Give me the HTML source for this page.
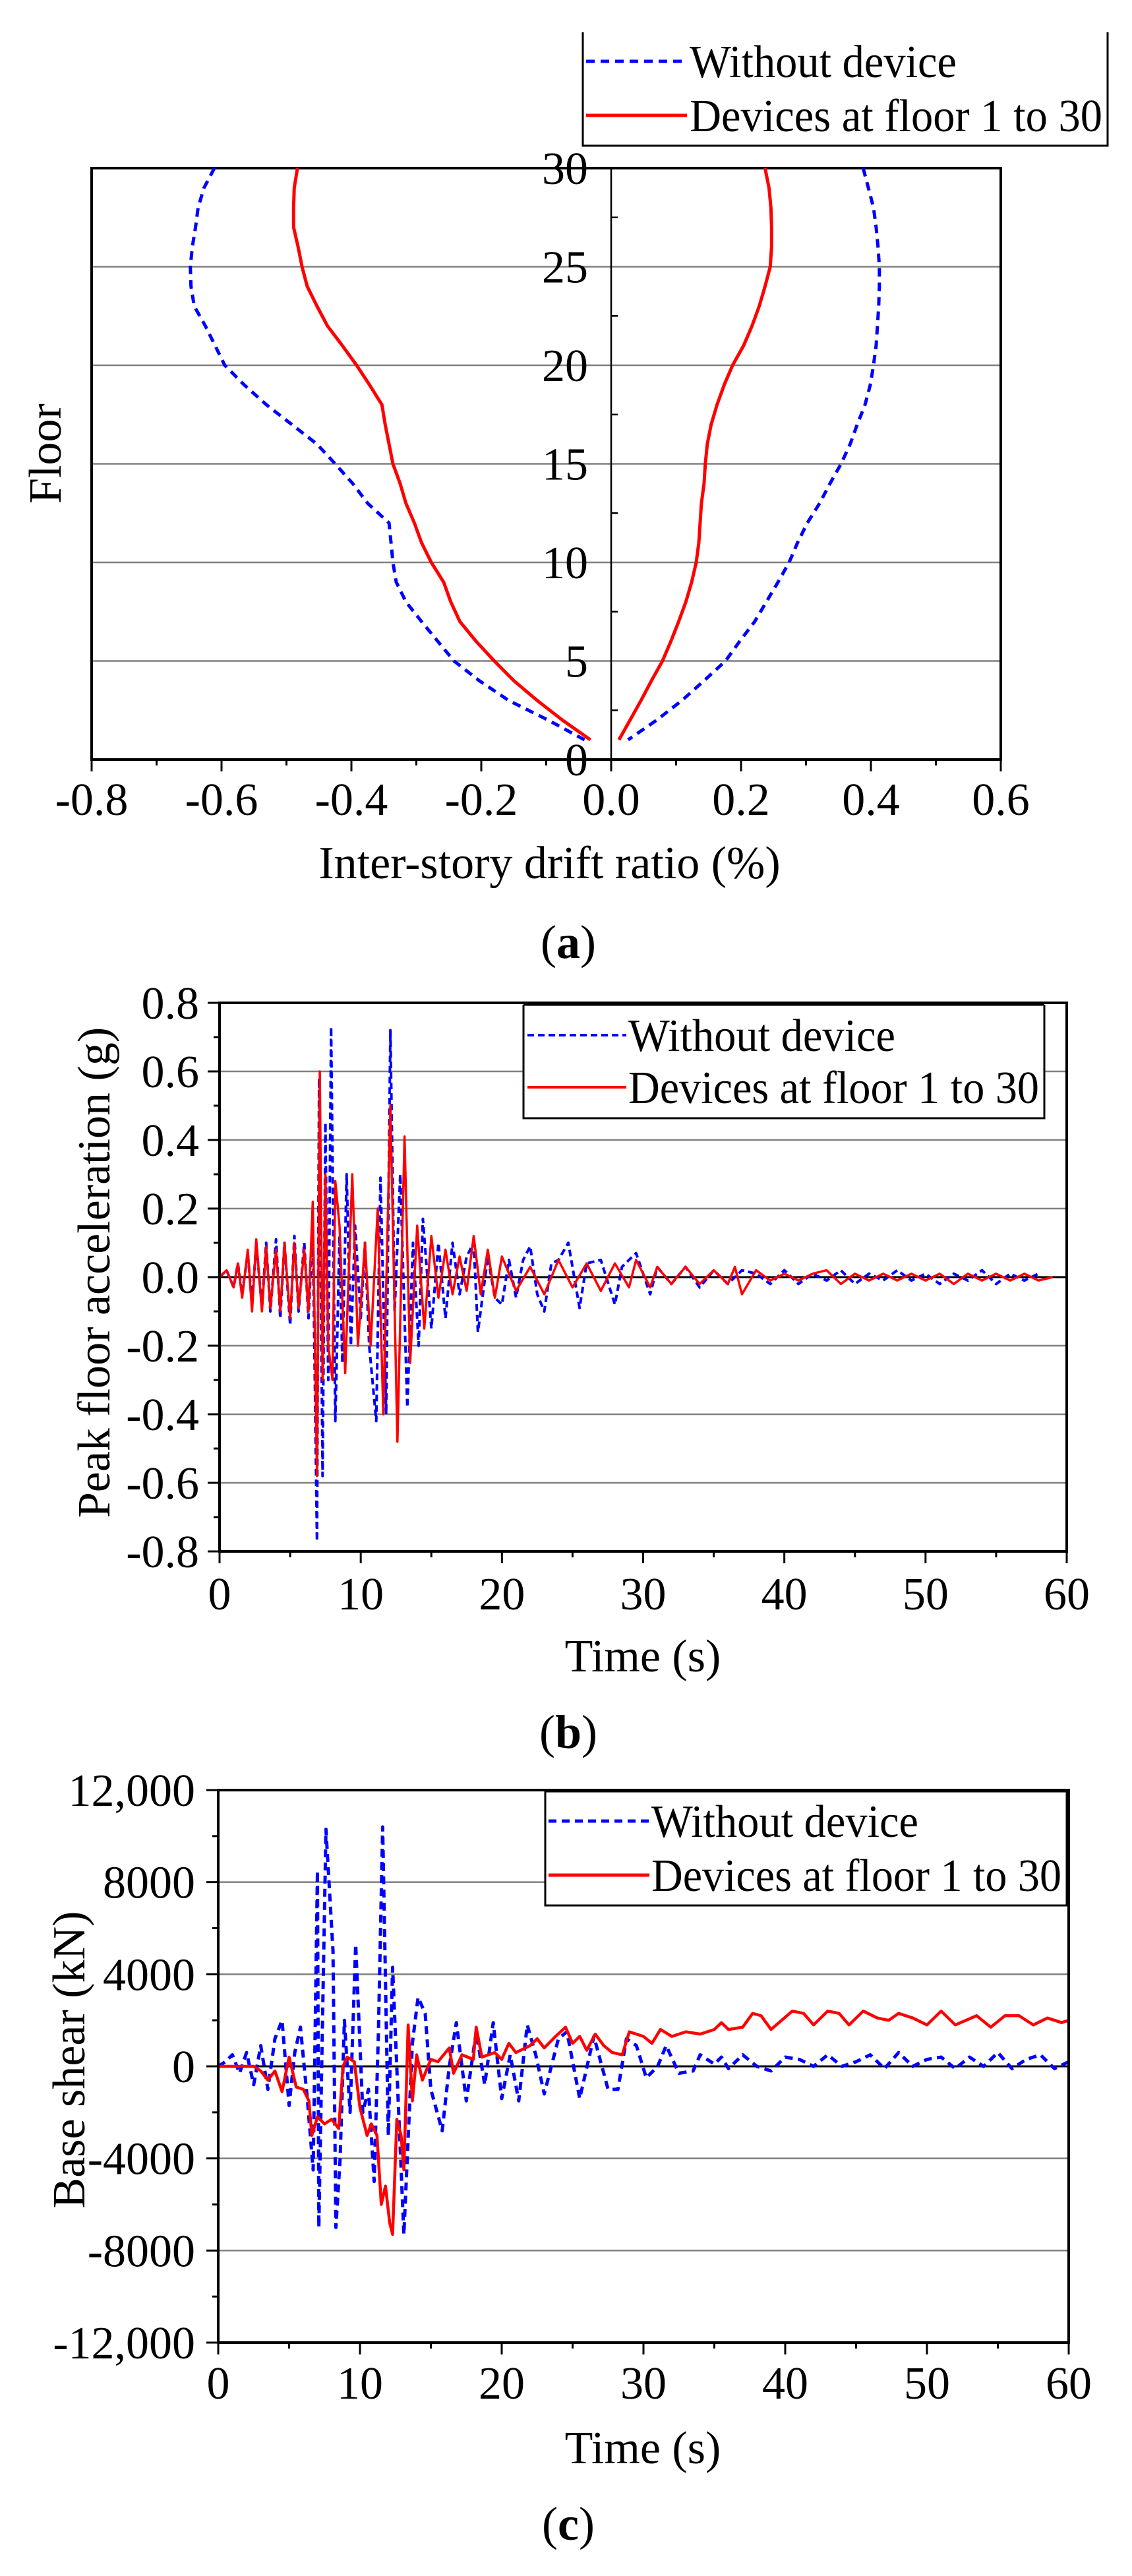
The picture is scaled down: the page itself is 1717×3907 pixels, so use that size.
<!DOCTYPE html>
<html><head><meta charset="utf-8"><style>
html,body{margin:0;padding:0;background:#fff;}
svg{display:block;font-family:"Liberation Serif",serif;}
</style></head><body>
<svg id="fig" width="1717" height="3907" viewBox="0 0 1717 3907" xmlns="http://www.w3.org/2000/svg"></svg>
<script>
// ---------- Panel (a) data ----------
const floorsA = [30,29,28,27,26,25,24,23,22,21,20,19,18,17,16,15,14,13,12,11,10,9,8,7,6,5,4,3,2,1];
const blueNegA = [-0.611,-0.627,-0.636,-0.640,-0.645,-0.648,-0.647,-0.642,-0.625,-0.610,-0.595,-0.565,-0.531,-0.492,-0.453,-0.425,-0.398,-0.375,-0.342,-0.339,-0.336,-0.331,-0.316,-0.292,-0.267,-0.242,-0.203,-0.158,-0.097,-0.041];
const redNegA = [-0.483,-0.488,-0.489,-0.489,-0.482,-0.476,-0.468,-0.453,-0.437,-0.414,-0.392,-0.372,-0.353,-0.348,-0.342,-0.336,-0.325,-0.316,-0.303,-0.292,-0.277,-0.258,-0.247,-0.233,-0.208,-0.180,-0.150,-0.114,-0.075,-0.032];
const redPosA = [0.237,0.243,0.246,0.247,0.247,0.245,0.237,0.228,0.217,0.204,0.187,0.174,0.163,0.154,0.148,0.145,0.143,0.139,0.137,0.135,0.131,0.124,0.115,0.104,0.092,0.079,0.062,0.046,0.029,0.012];
const bluePosA = [0.388,0.396,0.404,0.408,0.411,0.413,0.413,0.412,0.410,0.408,0.404,0.399,0.391,0.379,0.368,0.354,0.337,0.321,0.302,0.287,0.274,0.257,0.239,0.221,0.198,0.176,0.143,0.109,0.070,0.026];
const xTicksA = [-0.8,-0.6,-0.4,-0.2,0.0,0.2,0.4,0.6];
const xTickLabelsA = ["-0.8","-0.6","-0.4","-0.2","0.0","0.2","0.4","0.6"];
const yTicksA = [0,5,10,15,20,25,30];

// ---------- Panel (b) data ----------
const tB_blue = [0,0.5,1,1.3,1.6,2,2.3,2.6,3,3.3,3.6,4,4.3,4.6,5,5.3,5.6,6,6.3,6.6,6.9,7.05,7.3,7.5,7.7,7.9,8.2,8.5,8.7,9,9.3,9.6,10,10.3,10.6,11.1,11.4,11.8,12.1,12.4,12.8,13.3,13.7,14.1,14.4,15,15.5,16,16.5,17,17.5,18,18.3,19,19.5,20,20.5,21,21.5,22,22.5,23,23.5,24,24.7,25.5,26,27,28,28.5,29.5,30.5,31,32,33,34,35,36,37,38,39,40,41,42,43,44,45,46,47,48,49,50,51,52,53,54,55,56,57,58,59,60];
const accB_blue = [0,0.02,-0.03,0.04,-0.05,0.07,-0.08,0.1,-0.09,0.1,-0.1,0.11,-0.12,0.1,-0.14,0.12,-0.1,0.1,-0.12,0.15,-0.77,0.58,-0.58,0.45,-0.3,0.73,-0.42,0.12,-0.25,0.3,-0.2,0.15,-0.12,0.1,-0.2,-0.42,0.29,-0.4,0.72,-0.1,0.3,-0.38,0.1,-0.2,0.17,-0.15,0.1,-0.12,0.1,-0.05,0.06,0.1,-0.16,0.06,-0.06,-0.08,0.05,-0.06,0.05,0.09,-0.05,-0.1,0.04,0.05,0.1,-0.09,0.04,0.05,-0.08,0.03,0.07,-0.05,0.03,-0.02,0.03,-0.03,0.02,-0.02,0.02,0.01,-0.02,0.02,-0.02,0.01,-0.01,0.02,-0.02,0.01,-0.01,0.02,-0.01,0.01,-0.02,0.01,-0.01,0.02,-0.02,0.01,-0.01,0.01];
const tB_red = [0,0.5,1,1.3,1.6,2,2.3,2.6,3,3.3,3.6,4,4.3,4.6,5,5.3,5.6,6,6.3,6.6,6.9,7.1,7.3,7.5,7.7,8,8.2,8.5,8.9,9.4,9.8,10.3,10.7,11.2,11.6,12.1,12.6,13.1,13.5,14,14.5,15,15.5,16,16.5,17,17.5,18,18.5,19,19.5,20,21,22,23,24,25,26,27,28,29,29.5,30.5,31,32,33,34,35,36,36.5,37,38,39,40,41,42,43,44,45,46,47,48,49,50,51,52,53,54,55,56,57,58,59,60];
const accB_red = [0,0.02,-0.03,0.04,-0.06,0.08,-0.1,0.11,-0.1,0.09,-0.09,0.08,-0.1,0.1,-0.12,0.1,-0.09,0.08,-0.1,0.22,-0.58,0.6,-0.3,0.3,-0.2,-0.3,0.28,0.15,-0.28,0.3,-0.2,0.1,-0.2,0.2,-0.4,0.5,-0.48,0.41,-0.25,0.15,-0.15,0.12,-0.06,0.08,-0.05,0.06,-0.04,0.12,-0.05,0.08,-0.06,0.06,-0.04,0.03,-0.05,0.05,-0.03,0.04,-0.04,0.04,-0.03,0.05,-0.03,0.03,-0.02,0.03,-0.02,0.02,-0.02,0.03,-0.05,0.02,-0.01,0.01,-0.01,0.01,0.02,-0.02,0.01,-0.01,0.01,-0.01,0.01,-0.01,0.01,-0.02,0.01,-0.01,0.01,-0.01,0.01,-0.01,0];
const xTicksB = [0,10,20,30,40,50,60];
const yTicksB = [-0.8,-0.6,-0.4,-0.2,0.0,0.2,0.4,0.6,0.8];
const yTickLabelsB = ["-0.8","-0.6","-0.4","-0.2","0.0","0.2","0.4","0.6","0.8"];

// ---------- Panel (c) data ----------
const tC_blue = [0,0.5,1,1.5,2,2.5,3,3.5,4,4.5,5,5.4,5.8,6.3,6.7,7,7.1,7.6,8.1,8.3,8.6,8.9,9.3,9.7,10.2,10.6,11,11.3,11.6,12,12.3,12.8,13.1,13.7,14.1,14.6,15,15.8,16.3,16.8,17.5,18.2,18.8,19.4,20,20.6,21.2,21.8,22.4,23,24,24.6,25.5,26.5,27.5,28.2,28.8,29.5,30.2,31,31.6,32.5,33.5,34,35,35.5,36,37,38,39,40,41,42,43,44,45,46,47,48,49,50,51,52,53,54,55,56,57,58,59,60];
const shearC_blue = [0,200,500,-300,600,-800,900,-1000,1200,2000,-1700,600,1700,-1500,-4500,8500,-7000,10300,5000,-7000,-4000,2000,-2000,5300,-2000,-1000,-5000,1500,10400,-3000,4300,-3000,-7300,1000,3000,2300,-1000,-2800,0,1900,-1500,1500,-800,1900,-1400,500,-1500,1800,500,-1200,1200,1500,-1400,1300,-1000,-1000,1200,900,-500,0,900,-300,-200,500,100,400,-100,500,0,-200,400,300,0,500,0,200,500,-100,600,0,300,400,-100,400,0,600,-100,300,500,-100,200];
const tC_red = [0,2.5,3,3.5,4,4.5,5,5.5,6,6.4,6.6,7,7.5,8,8.5,8.8,9.1,9.6,10,10.5,10.8,11.2,11.5,11.8,12.1,12.3,12.6,12.9,13.1,13.4,13.7,14,14.4,15,15.5,16.3,16.6,17.2,18,18.2,18.6,19.5,20,20.5,21,22,22.5,23,23.8,24.5,25,25.5,26,26.6,27.2,27.8,28.5,29,30,30.6,31.2,32,33,34,35,35.5,36,37,37.7,38.3,39,40.5,41.3,42,43,43.8,44.5,45.5,46.5,47.3,48,49,50,51,52,53.5,54.5,55.5,56.5,57.5,58.5,59.5,60];
const shearC_red = [0,0,-200,-600,-200,-1100,400,-900,-1000,-1500,-3000,-2200,-2500,-2300,-2700,0,400,200,-1800,-3000,-2500,-3000,-6000,-5200,-6800,-7300,-2300,-3000,-4500,1800,-1500,500,-600,300,200,800,-300,500,300,1700,400,600,300,1000,600,900,1200,800,1300,1700,1000,1300,700,1400,900,600,500,1500,1300,1000,1600,1300,1500,1400,1600,1900,1600,1700,2300,2200,1600,2400,2300,1800,2400,2300,1800,2400,2100,2000,2300,2100,1800,2400,1800,2200,1700,2200,2200,1800,2100,1900,2000];
const xTicksC = [0,10,20,30,40,50,60];
const yTicksC = [-12000,-8000,-4000,0,4000,8000,12000];
const yTickLabelsC = ["-12,000","-8000","-4000","0","4000","8000","12,000"];

const NS = "http://www.w3.org/2000/svg";
const svg = document.getElementById('fig');
function mk(tag, attrs, parent) {
  const e = document.createElementNS(NS, tag);
  for (const k in attrs) e.setAttribute(k, attrs[k]);
  (parent || svg).appendChild(e);
  return e;
}
function txt(s, x, y, size, anchor, parent, weight) {
  const t = mk('text', {x: x, y: y, 'font-size': size, 'text-anchor': anchor || 'middle', fill: '#000'}, parent);
  if (weight) t.setAttribute('font-weight', weight);
  t.textContent = s;
  return t;
}
function panelLabel(letter, cx, y) {
  const t = mk('text', {x: cx, y: y, 'font-size': 72, 'text-anchor': 'middle', fill: '#000'});
  
  
  const a = document.createElementNS(NS, 'tspan'); a.textContent = '('; t.appendChild(a);
  const b = document.createElementNS(NS, 'tspan'); b.setAttribute('font-weight', 'bold'); b.textContent = letter; t.appendChild(b);
  const c = document.createElementNS(NS, 'tspan'); c.textContent = ')'; t.appendChild(c);
}
function legend(g, x0, y0, x1, y1, l1y, l2y, sx0, sx1, tx, lw, dash, topLine) {
  const lg = mk('g', {}, g);
  
  
  mk('rect', {x: x0, y: y0, width: x1 - x0, height: y1 - y0, fill: '#fff', stroke: 'none'}, lg);
  mk('path', {d: (topLine ? `M${x0},${y0}H${x1}` : '') + `M${x0},${y0}V${y1}H${x1}V${y0}`, fill: 'none', stroke: '#000', 'stroke-width': 3}, lg);
  const s1 = mk('line', {x1: sx0, y1: l1y, x2: sx1, y2: l1y, stroke: '#0000ff', 'stroke-width': lw, 'stroke-dasharray': dash}, lg);
  
  
  const t1 = txt('Without device', tx, l1y + 24, 70, 'start', lg);
  t1.setAttribute('textLength', 405);
  t1.setAttribute('lengthAdjust', 'spacingAndGlyphs');
  
  
  const s2 = mk('line', {x1: sx0, y1: l2y, x2: sx1, y2: l2y, stroke: '#ff0000', 'stroke-width': lw}, lg);
  
  
  const t2 = txt('Devices at floor 1 to 30', tx, l2y + 24, 70, 'start', lg);
  t2.setAttribute('textLength', x1 - tx - 8);
  t2.setAttribute('lengthAdjust', 'spacingAndGlyphs');
  
  
}
function pathFrom(xs, ys, fx, fy) {
  return xs.map((v, i) => (i ? 'L' : 'M') + fx(v).toFixed(1) + ',' + fy(ys[i]).toFixed(1)).join('');
}

// ================= Panel (a) =================
(function () {
  const L = 139, R = 1518, T = 255, B = 1152;
  const xmin = -0.8, xmax = 0.6, ymin = 0, ymax = 30;
  const fx = v => L + (v - xmin) / (xmax - xmin) * (R - L);
  const fy = v => B - (v - ymin) / (ymax - ymin) * (B - T);
  const g = mk('g', {});
  
  
  yTicksA.forEach(v => {
    if (v === 0 || v === 30) return;
    const gl = mk('line', {x1: L, x2: R, y1: fy(v), y2: fy(v), stroke: '#808080', 'stroke-width': 2.5}, g);
    
    
  });
  const zx = fx(0);
  const ax = mk('line', {x1: zx, x2: zx, y1: T, y2: B, stroke: '#000', 'stroke-width': 2.5}, g);
  
  
  for (let v = 0; v <= 30; v += 2.5) {
    const len = (v % 5 === 0) ? 0 : 10;
    if (len) mk('line', {x1: zx, x2: zx + len, y1: fy(v), y2: fy(v), stroke: '#000', 'stroke-width': 2.5}, g);
  }
  yTicksA.forEach(v => {
    const t = txt(String(v), zx - 35, fy(v) + 24, 70, 'end', g);
    
    
  });
  const frame = mk('rect', {x: L, y: T, width: R - L, height: B - T, fill: 'none', stroke: '#000', 'stroke-width': 4}, g);
  
  
  for (let v = -0.8; v <= 0.6001; v += 0.1) {
    const major = Math.abs(Math.round(v * 10)) % 2 === 0;
    mk('line', {x1: fx(v), x2: fx(v), y1: B, y2: B + (major ? 18 : 9), stroke: '#000', 'stroke-width': 3}, g);
  }
  xTicksA.forEach((v, i) => {
    const t = txt(xTickLabelsA[i], fx(v), 1236, 70, 'middle', g);
    
    
  });
  const xt = txt('Inter-story drift ratio (%)', (L + R) / 2 + 5, 1332, 70, 'middle', g);
  
  
  const yt = txt('Floor', 0, 0, 70, 'middle', g);
  yt.setAttribute('transform', 'translate(92,688) rotate(-90)');
  
  
  const series = [
    [blueNegA, '#0000ff', true, 'line-without-device-negative'],
    [bluePosA, '#0000ff', true, 'line-without-device-positive'],
    [redNegA, '#ff0000', false, 'line-devices-negative'],
    [redPosA, '#ff0000', false, 'line-devices-positive']
  ];
  series.forEach(s => {
    const p = mk('path', {d: pathFrom(s[0], floorsA, fx, fy), fill: 'none', stroke: s[1], 'stroke-width': 5, 'stroke-linejoin': 'round'}, g);
    if (s[2]) p.setAttribute('stroke-dasharray', '13 9');
    
    
  });
  legend(g, 884, 49, 1680, 221, 93, 175, 889, 1042, 1046, 5, '13 9', false);
})();
panelLabel('a', 862, 1453);

// ================= Panel (b) =================
(function () {
  const L = 333, R = 1618, T = 1521, B = 2353;
  const xmin = 0, xmax = 60, ymin = -0.8, ymax = 0.8;
  const fx = v => L + (v - xmin) / (xmax - xmin) * (R - L);
  const fy = v => B - (v - ymin) / (ymax - ymin) * (B - T);
  const g = mk('g', {});
  
  
  yTicksB.forEach(v => {
    if (Math.abs(v) > 0.79) return;
    const gl = mk('line', {x1: L, x2: R, y1: fy(v), y2: fy(v), stroke: v === 0 ? '#000' : '#808080', 'stroke-width': v === 0 ? 3 : 2.5}, g);
    
    
  });
  const pb = mk('path', {d: pathFrom(tB_blue, accB_blue, fx, fy), fill: 'none', stroke: '#0000ff', 'stroke-width': 4, 'stroke-dasharray': '10 6', 'stroke-linejoin': 'round'}, g);
  
  
  const pr = mk('path', {d: pathFrom(tB_red, accB_red, fx, fy), fill: 'none', stroke: '#ff0000', 'stroke-width': 3.5, 'stroke-linejoin': 'round'}, g);
  
  
  const frame = mk('rect', {x: L, y: T, width: R - L, height: B - T, fill: 'none', stroke: '#000', 'stroke-width': 4}, g);
  
  
  for (let i = 0; i <= 16; i++) {
    const v = -0.8 + i * 0.1;
    mk('line', {x1: L - (i % 2 === 0 ? 18 : 9), x2: L, y1: fy(v), y2: fy(v), stroke: '#000', 'stroke-width': 3}, g);
  }
  for (let v = 0; v <= 60; v += 5) {
    mk('line', {x1: fx(v), x2: fx(v), y1: B, y2: B + (v % 10 === 0 ? 18 : 9), stroke: '#000', 'stroke-width': 3}, g);
  }
  yTicksB.forEach((v, i) => {
    const t = txt(yTickLabelsB[i], L - 31, fy(v) + 24, 70, 'end', g);
    
    
  });
  xTicksB.forEach(v => {
    const t = txt(String(v), fx(v), 2441, 70, 'middle', g);
    
    
  });
  const xt = txt('Time (s)', 975, 2535, 70, 'middle', g);
  
  
  const yt = txt('Peak floor acceleration (g)', 0, 0, 70, 'middle', g);
  yt.setAttribute('transform', 'translate(166,1930) rotate(-90)');
  
  
  legend(g, 794, 1524, 1584, 1696, 1570, 1649, 800, 950, 953, 4, '10 6', true);
})();
panelLabel('b', 862, 2651);

// ================= Panel (c) =================
(function () {
  const L = 331, R = 1621, T = 2715, B = 3553;
  const xmin = 0, xmax = 60, ymin = -12000, ymax = 12000;
  const fx = v => L + (v - xmin) / (xmax - xmin) * (R - L);
  const fy = v => B - (v - ymin) / (ymax - ymin) * (B - T);
  const g = mk('g', {});
  
  
  yTicksC.forEach(v => {
    if (Math.abs(v) > 11999) return;
    const gl = mk('line', {x1: L, x2: R, y1: fy(v), y2: fy(v), stroke: v === 0 ? '#000' : '#808080', 'stroke-width': v === 0 ? 3 : 2.5}, g);
    
    
  });
  const pb = mk('path', {d: pathFrom(tC_blue, shearC_blue, fx, fy), fill: 'none', stroke: '#0000ff', 'stroke-width': 5, 'stroke-dasharray': '12 8', 'stroke-linejoin': 'round'}, g);
  
  
  const pr = mk('path', {d: pathFrom(tC_red, shearC_red, fx, fy), fill: 'none', stroke: '#ff0000', 'stroke-width': 4.5, 'stroke-linejoin': 'round'}, g);
  
  
  const frame = mk('rect', {x: L, y: T, width: R - L, height: B - T, fill: 'none', stroke: '#000', 'stroke-width': 4}, g);
  
  
  for (let i = 0; i <= 12; i++) {
    const v = -12000 + i * 2000;
    mk('line', {x1: L - (i % 2 === 0 ? 18 : 9), x2: L, y1: fy(v), y2: fy(v), stroke: '#000', 'stroke-width': 3}, g);
  }
  for (let v = 0; v <= 60; v += 5) {
    mk('line', {x1: fx(v), x2: fx(v), y1: B, y2: B + (v % 10 === 0 ? 18 : 9), stroke: '#000', 'stroke-width': 3}, g);
  }
  yTicksC.forEach((v, i) => {
    const t = txt(yTickLabelsC[i], L - 35, fy(v) + 24, 70, 'end', g);
    
    
  });
  xTicksC.forEach(v => {
    const t = txt(String(v), fx(v), 3638, 70, 'middle', g);
    
    
  });
  const xt = txt('Time (s)', 975, 3736, 70, 'middle', g);
  
  
  const yt = txt('Base shear (kN)', 0, 0, 70, 'middle', g);
  yt.setAttribute('transform', 'translate(128,3124) rotate(-90)');
  
  
  legend(g, 827, 2717, 1618, 2890, 2762, 2844, 832, 985, 988, 5, '12 8', true);
})();
panelLabel('c', 862, 3852);
</script>
</body></html>
